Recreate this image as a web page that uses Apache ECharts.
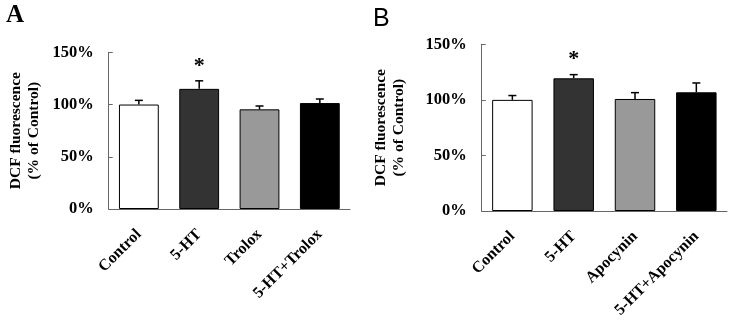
<!DOCTYPE html>
<html>
<head>
<meta charset="UTF-8">
<title>DCF fluorescence</title>
<script src="https://cdn.jsdelivr.net/npm/echarts@6/dist/echarts.min.js"></script>
<style>
  html, body { margin: 0; padding: 0; background: #fff; }
  #chart { width: 732px; height: 323px; }
</style>
</head>
<body>
<div id="chart"></div>
<script>
  // panel A
  var catsA = ['Control', '5-HT', 'Trolox', '5-HT+Trolox'];
  var meanA = [100, 115, 95.4, 101.4];
  var semA = [4, 7.7, 3.2, 3.9];
  var sigA = ['', '*', '', ''];
  // panel B
  var catsB = ['Control', '5-HT', 'Apocynin', '5-HT+Apocynin'];
  var meanB = [100, 119.4, 100.8, 106.8];
  var semB = [3.9, 3.3, 5.7, 8.4];
  var sigB = ['', '*', '', ''];
  var barColors = ['#ffffff', '#333333', '#999999', '#000000'];
  var yTicks = [0, 50, 100, 150];

  var serif = '"Liberation Serif", "Times New Roman", serif';
  var chart = echarts.init(document.getElementById('chart'));

  function xAxisFor(cats, gi) {
    return {
      type: 'category', gridIndex: gi, data: cats,
      axisLine: { lineStyle: { color: '#666', width: 1 } },
      axisTick: { inside: true, length: 5, lineStyle: { color: '#666' } },
      axisLabel: {
        rotate: 45, margin: 23, color: '#000',
        fontFamily: serif, fontWeight: 'bold', fontSize: 16
      }
    };
  }
  function yAxisFor(gi, gap) {
    return {
      type: 'value', gridIndex: gi,
      min: yTicks[0], max: yTicks[yTicks.length - 1], interval: 50,
      name: 'DCF fluorescence\n(% of Control)',
      nameLocation: 'middle', nameGap: gap, nameRotate: 90,
      nameTextStyle: { fontFamily: serif, fontWeight: 'bold', fontSize: 15.5, color: '#000', lineHeight: 18 },
      splitLine: { show: false },
      axisLine: { show: true, lineStyle: { color: '#666', width: 1 } },
      axisTick: { show: true, inside: true, length: 4, lineStyle: { color: '#666' } },
      axisLabel: {
        formatter: '{value}%', margin: 15, color: '#000',
        fontFamily: serif, fontWeight: 'bold', fontSize: 16.5
      }
    };
  }
  function barsFor(means, gi) {
    return {
      type: 'bar', xAxisIndex: gi, yAxisIndex: gi, barWidth: '66%',
      data: means.map(function (v, i) {
        return { value: v, itemStyle: { color: barColors[i], borderColor: '#000', borderWidth: 1 } };
      }),
      silent: true
    };
  }
  function errorsFor(means, sems, sig, gi) {
    return {
      type: 'custom', xAxisIndex: gi, yAxisIndex: gi, silent: true, z: 5,
      data: means.map(function (v, i) { return [i, v, v + sems[i]]; }),
      renderItem: function (params, api) {
        var i = api.value(0);
        var lo = api.coord([i, api.value(1)]);
        var hi = api.coord([i, api.value(2)]);
        var style = { stroke: '#000', lineWidth: 1.5 };
        var children = [
          { type: 'line', shape: { x1: lo[0], y1: lo[1], x2: hi[0], y2: hi[1] }, style: style },
          { type: 'line', shape: { x1: hi[0] - 4, y1: hi[1], x2: hi[0] + 4, y2: hi[1] }, style: style }
        ];
        if (sig[i]) {
          children.push({
            type: 'text',
            style: {
              text: sig[i], x: hi[0], y: hi[1] - 15, align: 'center', verticalAlign: 'middle',
              fontFamily: serif, fontWeight: 'bold', fontSize: 22, fill: '#000'
            }
          });
        }
        return { type: 'group', children: children };
      }
    };
  }

  chart.setOption({
    animation: false,
    title: [
      { text: 'A', left: 1, top: -2, textStyle: { fontFamily: serif, fontWeight: 'bold', fontSize: 25, color: '#000' } },
      { text: 'B', left: 368, top: 2, textStyle: { fontFamily: '"Liberation Sans", Arial, sans-serif', fontWeight: 'normal', fontSize: 25, color: '#000' } }
    ],
    grid: [
      { left: 108.7, right: 382, top: 52.3, bottom: 114, outerBoundsMode: 'none' },
      { left: 481.7, right: 5, top: 44.3, bottom: 112, outerBoundsMode: 'none' }
    ],
    xAxis: [xAxisFor(catsA, 0), xAxisFor(catsB, 1)],
    yAxis: [yAxisFor(0, 66), yAxisFor(1, 74)],
    series: [
      barsFor(meanA, 0), errorsFor(meanA, semA, sigA, 0),
      barsFor(meanB, 1), errorsFor(meanB, semB, sigB, 1)
    ]
  });
</script>
</body>
</html>
